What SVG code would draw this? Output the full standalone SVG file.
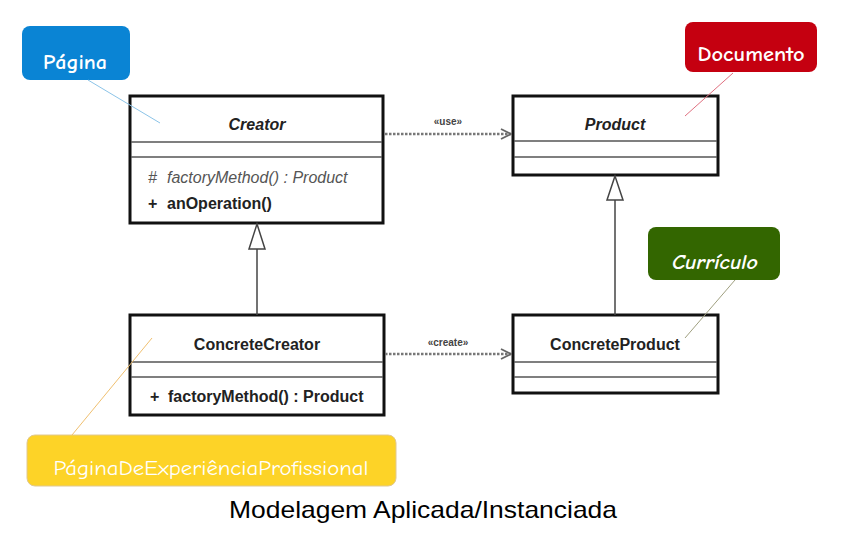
<svg xmlns="http://www.w3.org/2000/svg" width="844" height="543" viewBox="0 0 844 543">
<defs>
<style>
.box{fill:#fff;stroke:#111;stroke-width:3}
.div{stroke:#555;stroke-width:1.5}
.t{font-family:"Liberation Sans",Arial,sans-serif;font-size:16px;fill:#222}
.b{font-weight:bold}
.i{font-style:italic}
.note{font-family:"Comic Neue","Open Sans","Noto Sans",sans-serif;font-size:20px;font-weight:bold;fill:#fff;text-anchor:middle}
.dash{stroke:#777;stroke-width:2.5;stroke-dasharray:2.5 1.5;fill:none}
.gen{stroke:#444;stroke-width:1.5;fill:none}
.lbl{font-family:"Liberation Sans",Arial,sans-serif;font-size:10px;font-weight:bold;fill:#444;text-anchor:middle}
</style>
<marker id="open" viewBox="0 0 12 12" refX="11" refY="6" markerWidth="12" markerHeight="12" markerUnits="userSpaceOnUse" orient="auto">
<path d="M1,1 L11,6 L1,11" fill="none" stroke="#666" stroke-width="1.8"/>
</marker>
</defs>
<rect width="844" height="543" fill="#fff"/>
<g id="creator">
<rect class="box" x="130" y="96" width="253" height="127"/>
<line class="div" x1="131" y1="142" x2="382" y2="142"/>
<line class="div" x1="131" y1="157" x2="382" y2="157"/>
<text class="t b i" x="257" y="130" text-anchor="middle">Creator</text>
<text class="t i" x="148" y="183" style="fill:#555">#</text>
<text class="t i" x="167" y="183" style="fill:#555">factoryMethod() : Product</text>
<text class="t b" x="148" y="209">+</text>
<text class="t b" x="167" y="209">anOperation()</text>
</g>
<g id="product">
<rect class="box" x="513" y="96" width="205" height="79"/>
<line class="div" x1="514" y1="141" x2="717" y2="141"/>
<line class="div" x1="514" y1="157" x2="717" y2="157"/>
<text class="t b i" x="615" y="130" text-anchor="middle">Product</text>
</g>
<g id="concreteCreator">
<rect class="box" x="130" y="315" width="254" height="100"/>
<line class="div" x1="131" y1="362" x2="383" y2="362"/>
<line class="div" x1="131" y1="377" x2="383" y2="377"/>
<text class="t b" x="257" y="350" text-anchor="middle">ConcreteCreator</text>
<text class="t b" x="150" y="402">+</text>
<text class="t b" x="168" y="402">factoryMethod() : Product</text>
</g>
<g id="concreteProduct">
<rect class="box" x="513" y="315" width="205" height="78"/>
<line class="div" x1="514" y1="362" x2="717" y2="362"/>
<line class="div" x1="514" y1="377" x2="717" y2="377"/>
<text class="t b" x="615" y="350" text-anchor="middle">ConcreteProduct</text>
</g>
<g id="pagina">
<rect x="22" y="26" width="108" height="54" rx="8" fill="#0a84d4"/>
<text class="note" x="75" y="69" textLength="64" lengthAdjust="spacingAndGlyphs">Página</text>
</g>
<g id="documento">
<rect x="685" y="22" width="132" height="50" rx="8" fill="#c50010"/>
<text class="note" x="751" y="61" textLength="107" lengthAdjust="spacingAndGlyphs">Documento</text>
</g>
<g id="curriculo">
<rect x="648" y="227" width="132" height="53" rx="8" fill="#336600"/>
<text class="note i" x="715" y="269" textLength="86" lengthAdjust="spacingAndGlyphs">Currículo</text>
</g>
<g id="paginaExp">
<rect x="27" y="435" width="369" height="51" rx="8" fill="#fdd327" stroke="#e0c890" stroke-width="1"/>
<text class="note" x="211" y="475" style="font-weight:normal" textLength="315" lengthAdjust="spacingAndGlyphs">PáginaDeExperiênciaProfissional</text>
</g>
<g id="connectors">
<line class="dash" x1="385" y1="134" x2="511" y2="134" marker-end="url(#open)"/>
<text class="lbl" x="448" y="125">«use»</text>
<line class="dash" x1="385" y1="354" x2="511" y2="354" marker-end="url(#open)"/>
<text class="lbl" x="448" y="346">«create»</text>
<line class="gen" x1="257" y1="249" x2="257" y2="315"/>
<polygon points="257,224 249,249 265,249" fill="#fff" stroke="#444" stroke-width="1.5"/>
<line class="gen" x1="615" y1="200" x2="615" y2="315"/>
<polygon points="615,176 607,200 623,200" fill="#fff" stroke="#444" stroke-width="1.5"/>
<line x1="88" y1="80" x2="160" y2="123" stroke="#8cc4e8" stroke-width="1"/>
<line x1="733" y1="73" x2="685" y2="116" stroke="#e07080" stroke-width="1"/>
<line x1="735" y1="280" x2="685" y2="338" stroke="#a0a080" stroke-width="1"/>
<line x1="72" y1="435" x2="152" y2="338" stroke="#f0c070" stroke-width="1"/>
</g>
<text x="423" y="518" text-anchor="middle" font-family="Liberation Sans, Arial, sans-serif" font-size="24" fill="#000" textLength="388" lengthAdjust="spacingAndGlyphs">Modelagem Aplicada/Instanciada</text>
</svg>
